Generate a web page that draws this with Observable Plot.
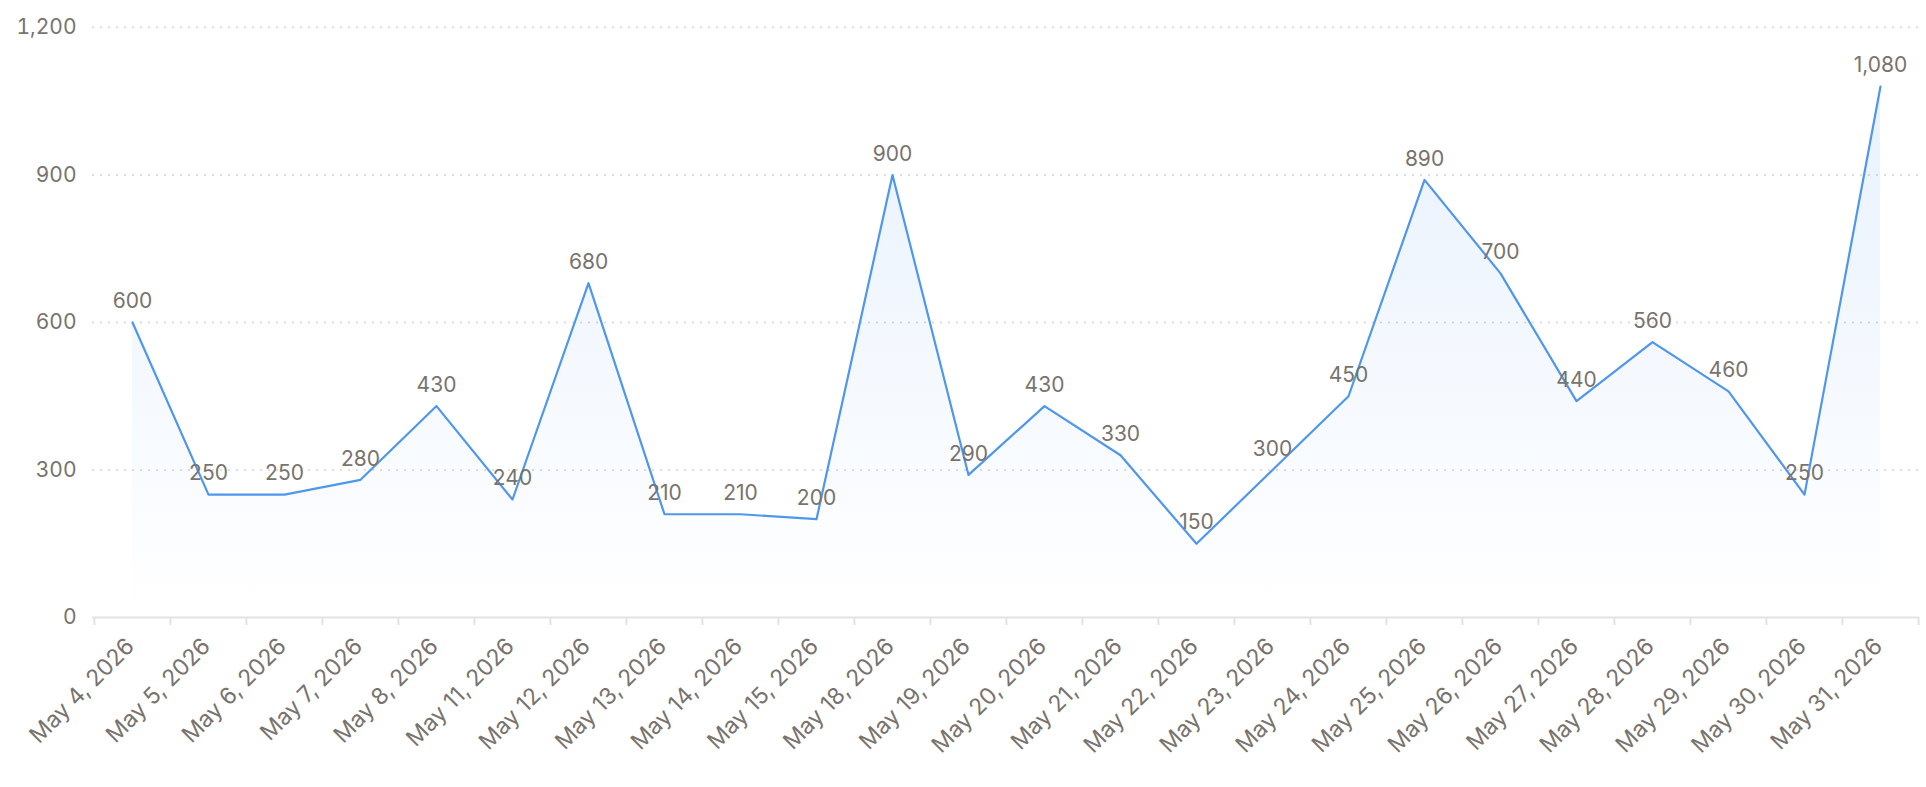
<!DOCTYPE html>
<html>
<head>
<meta charset="utf-8">
<script src="https://cdn.jsdelivr.net/npm/d3@7"></script>
<script src="https://cdn.jsdelivr.net/npm/@observablehq/plot@0.6"></script>
<style>
  html, body { margin: 0; padding: 0; background: #ffffff; }
  #chart { width: 1926px; height: 787px; }
</style>
</head>
<body>
<div id="chart"></div>
<script>
const dates = [
  "May 4, 2026", "May 5, 2026", "May 6, 2026", "May 7, 2026", "May 8, 2026",
  "May 11, 2026", "May 12, 2026", "May 13, 2026", "May 14, 2026", "May 15, 2026",
  "May 18, 2026", "May 19, 2026", "May 20, 2026", "May 21, 2026", "May 22, 2026",
  "May 23, 2026", "May 24, 2026", "May 25, 2026", "May 26, 2026", "May 27, 2026",
  "May 28, 2026", "May 29, 2026", "May 30, 2026", "May 31, 2026"
];
const values = [
  600, 250, 250, 280, 430,
  240, 680, 210, 210, 200,
  900, 290, 430, 330, 150,
  300, 450, 890, 700, 440,
  560, 460, 250, 1080
];
const yTicks = [0, 300, 600, 900, 1200];

const data = dates.map((d, i) => ({date: d, value: values[i]}));

const W = 1926, H = 787;
const ML = 92, MR = 7, MT = 27, MB = 170;
const bw = (W - ML - MR) / dates.length;
const textColor = "#78736e";
const lineColor = "#4f96ed";
const axisColor = "#e3e3e3";
const fmt = d3.format(",");

const gradientDefs = () => {
  const defs = d3.create("svg:defs");
  const lg = defs.append("linearGradient")
    .attr("id", "areaFill")
    .attr("x1", 0).attr("y1", 0).attr("x2", 0).attr("y2", 1);
  lg.append("stop").attr("offset", "0%").attr("stop-color", lineColor).attr("stop-opacity", 0.13);
  lg.append("stop").attr("offset", "100%").attr("stop-color", lineColor).attr("stop-opacity", 0);
  return defs.node();
};

const chart = Plot.plot({
  width: W,
  height: H,
  marginLeft: ML,
  marginRight: MR,
  marginTop: MT,
  marginBottom: MB,
  style: {fontFamily: "Inter, 'Noto Sans', sans-serif", fontSize: "21px", color: textColor, background: "#ffffff"},
  x: {type: "band", domain: dates, padding: 0, label: null},
  y: {domain: [0, 1200], ticks: yTicks, label: null},
  marks: [
    gradientDefs,
    Plot.gridY(yTicks.filter(v => v > 0), {stroke: "#d4d4d4", strokeOpacity: 1, strokeDasharray: "2,6", strokeWidth: 1.5}),
    Plot.areaY(data, {x: "date", y: "value", fill: "url(#areaFill)"}),
    Plot.ruleY([0], {stroke: axisColor, strokeWidth: 2}),
    Plot.axisY({ticks: yTicks, tickSize: 0, tickPadding: 16, tickFormat: fmt, fill: textColor, fontSize: 21, label: null}),
    Plot.axisX({tickSize: 8, fill: "none", stroke: axisColor, strokeWidth: 2, dx: -bw / 2, label: null}),
    Plot.axisX({ticks: [dates[dates.length - 1]], tickSize: 8, fill: "none", stroke: axisColor, strokeWidth: 2, dx: bw / 2, label: null}),
    Plot.axisX({tickSize: 0, tickRotate: -45, tickPadding: 25, dx: -2, fill: textColor, fontSize: 23, label: null}),
    Plot.lineY(data, {x: "date", y: "value", stroke: lineColor, strokeWidth: 2.2}),
    Plot.text(data, {x: "date", y: "value", text: d => fmt(d.value), dy: -21, fill: textColor, fontSize: 21})
  ]
});

document.getElementById("chart").appendChild(chart);
</script>
</body>
</html>
